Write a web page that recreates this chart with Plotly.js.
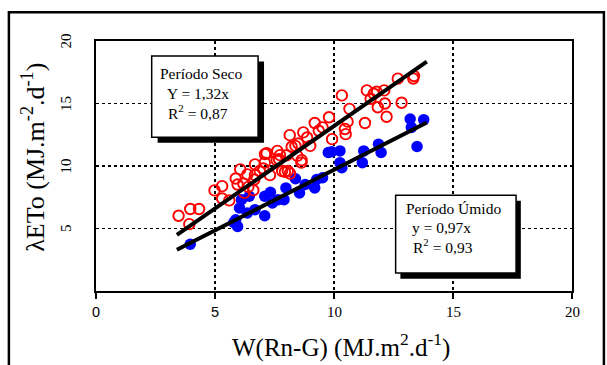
<!DOCTYPE html>
<html><head><meta charset="utf-8">
<script src="https://cdn.plot.ly/plotly-3.0.1.min.js"></script>
<style>html,body{margin:0;padding:0;background:#fff}#chart{width:607px;height:365px}</style>
</head><body><div id="chart"></div>
<script>
// Período Seco (dry season) – open red circles
const secoX = [3.47,3.96,4.33,3.92,4.98,5.30,5.30,5.60,5.87,6.06,5.95,6.36,6.23,6.40,6.19,6.61,6.68,6.65,6.68,6.88,7.03,7.09,7.10,7.17,7.31,7.62,7.59,7.69,7.73,7.82,7.94,8.01,8.06,8.15,8.14,8.38,8.22,8.46,8.50,8.63,8.64,8.71,8.87,9.00,9.19,9.36,9.52,9.79,9.92,10.33,10.46,10.49,10.57,10.65,11.30,11.38,11.54,11.67,11.79,11.84,12.11,12.14,12.21,12.84,12.68,13.36,13.33];
const secoY = [6.02,6.56,6.56,5.35,8.05,8.39,7.40,7.25,9.00,9.73,8.52,9.33,7.85,8.33,8.60,8.07,10.13,8.92,9.27,9.60,9.80,10.27,10.95,11.02,9.27,11.21,10.47,10.54,10.87,9.60,9.54,10.86,9.60,9.40,12.47,11.61,11.54,10.81,11.80,10.27,10.47,12.69,12.28,11.61,13.44,12.82,13.09,13.90,12.15,15.65,12.96,12.55,13.55,14.57,13.44,16.05,15.38,15.78,15.94,14.70,16.05,15.00,13.94,15.06,16.99,17.20,17.00];
// Período Úmido (wet season) – filled blue circles
const umidoX = [3.96,5.79,5.95,5.87,6.11,6.03,6.36,6.44,6.68,7.09,7.09,7.33,7.41,7.65,7.90,7.98,8.38,8.55,8.79,9.19,9.27,9.52,9.76,9.90,10.25,10.25,10.33,11.19,11.25,11.87,11.98,13.20,13.25,13.49,13.77];
const umidoY = [3.74,5.48,5.16,5.70,7.31,6.64,6.24,7.58,6.51,6.02,7.58,7.90,7.04,7.31,7.31,8.25,8.98,7.85,8.52,8.25,8.92,9.06,11.08,11.14,11.21,10.27,9.87,10.27,11.21,11.75,11.08,13.76,13.09,11.56,13.71];
// Regressions through origin
const fitRange = [3.4, 13.9];
const slopeSeco = 1.32, slopeUmido = 0.97;
const xTicks = [0,5,10,15,20];
const xTickLabels = ['0','5','10','15','20'];
const xTickSans = [true,true,false,false,false];
const yTicks = [5,10,15,20];
const yTickLabels = ['5','10','15','20'];

const serif = "Times New Roman";
const sans = "Arial";

const traces = [
  {x: umidoX, y: umidoY, mode:'markers', type:'scatter',
   marker:{symbol:'circle', size:11.5, color:'#0000ff'}},
  {x: secoX, y: secoY, mode:'markers', type:'scatter',
   marker:{symbol:'circle-open', size:10.5, color:'#ff0000', line:{width:1.9, color:'#ff0000'}}},
  {x: fitRange, y: fitRange.map(v=>v*slopeSeco), mode:'lines', type:'scatter', line:{color:'#000', width:4}},
  {x: fitRange, y: fitRange.map(v=>v*slopeUmido), mode:'lines', type:'scatter', line:{color:'#000', width:4}}
];

function box(x0,x1,y0,y1,dx,dy){
  return [
    {type:'rect', xref:'x', yref:'y', x0:x0+dx, x1:x1+dx, y0:y0-dy, y1:y1-dy, fillcolor:'#000', line:{width:0}, layer:'above'},
    {type:'rect', xref:'x', yref:'y', x0:x0, x1:x1, y0:y0, y1:y1, fillcolor:'#fff', line:{color:'#000', width:1.5}, layer:'above'}
  ];
}

const shapes = [
  ...box(2.34, 6.81, 12.3, 18.8, 0.25, 0.45),
  ...box(12.59, 17.65, 1.44, 7.67, 0.2, 0.45),
  {type:'rect', xref:'paper', yref:'paper', x0:-0.183, x1:1.067, y0:-0.4, y1:1.115, line:{color:'#000', width:2.5}, fillcolor:'rgba(0,0,0,0)', layer:'above'}
];

const af = {family: serif, size: 15.5, color:'#000'};
const annotations = [
  {x:2.6, y:17.4, xref:'x', yref:'y', text:'Período Seco', showarrow:false, xanchor:'left', font:af},
  {x:2.9, y:15.8, xref:'x', yref:'y', text:'Y = 1,32x', showarrow:false, xanchor:'left', font:af},
  {x:2.95, y:14.3, xref:'x', yref:'y', text:'R<sup>2</sup> = 0,87', showarrow:false, xanchor:'left', font:af},
  {x:12.95, y:6.6, xref:'x', yref:'y', text:'Período Úmido', showarrow:false, xanchor:'left', font:af},
  {x:13.2, y:5.1, xref:'x', yref:'y', text:'y = 0,97x', showarrow:false, xanchor:'left', font:af},
  {x:13.25, y:3.6, xref:'x', yref:'y', text:'R<sup>2</sup> = 0,93', showarrow:false, xanchor:'left', font:af},
  {x:-0.17, y:0.535, xref:'paper', yref:'paper', text:'λETo (MJ.m<sup>-2</sup>.d<sup>-1</sup>)', showarrow:false, textangle:-90, font:{family:serif, size:26, color:'#000'}},
  {x:0.515, y:-0.29, xref:'paper', yref:'paper', text:'W(Rn-G) (MJ.m<sup>2</sup>.d<sup>-1</sup>)', showarrow:false, font:{family:serif, size:25, color:'#000'}}
];
xTicks.forEach((v,i)=>annotations.push({x:v, y:-0.125, xref:'x', yref:'paper', text:xTickLabels[i], showarrow:false,
  font:{family: xTickSans[i] ? sans : serif, size: xTickSans[i] ? 14.5 : 15, color:'#000'}}));
yTicks.forEach((v,i)=>annotations.push({x:-0.085, y:v, xref:'paper', yref:'y', text:yTickLabels[i], showarrow:false, textangle:-90,
  font:{family:serif, size:15, color:'#000'}}));

const layout = {
  width:607, height:365,
  margin:{l:96, r:35, t:41, b:74},
  paper_bgcolor:'#fff', plot_bgcolor:'#fff',
  font:{family:serif, color:'#000'},
  showlegend:false,
  xaxis:{range:[0,20], tickvals:xTicks, showticklabels:false, showgrid:true, gridcolor:'#000', griddash:'dot', gridwidth:1.5,
         zeroline:false, showline:true, linecolor:'#000', linewidth:2, mirror:true,
         ticks:'outside', ticklen:6, tickwidth:2, tickcolor:'#000'},
  yaxis:{range:[0,20], tickvals:yTicks, showticklabels:false, showgrid:true, gridcolor:'#000', griddash:'dot', gridwidth:1.5,
         zeroline:false, showline:true, linecolor:'#000', linewidth:2, mirror:true, ticks:''},
  shapes: shapes,
  annotations: annotations
};

Plotly.newPlot('chart', traces, layout, {displayModeBar:false, staticPlot:true});
</script>
</body></html>
